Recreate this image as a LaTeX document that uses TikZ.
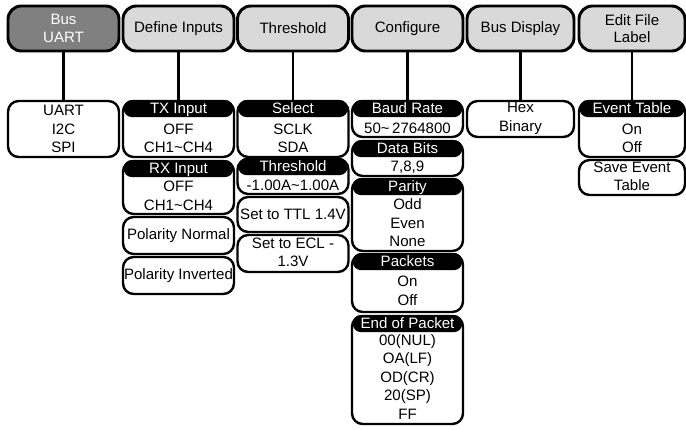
\documentclass[tikz,border=0pt]{standalone}
\usepackage{fontspec}
\setmainfont{Liberation Sans}
\usepackage{tikz}
\usetikzlibrary{positioning}
\definecolor{busgray}{RGB}{128,128,128}
\definecolor{menugray}{RGB}{217,217,217}

\begin{document}
\begin{tikzpicture}[x=0.75pt, y=-0.75pt,
    menu/.style={draw, line width=2.2pt, rounded corners=10pt, fill=menugray, minimum height=33.75pt, align=center, inner sep=0pt, font=\fontsize{11.3}{13}\selectfont},
    busmenu/.style={menu, fill=busgray, text=white},
    group/.style={draw, line width=1.8pt, rounded corners=8pt, fill=white, inner sep=0pt},
    head/.style={fill=black, text=white, rounded corners=6pt, minimum width=#1, minimum height=12.75pt, inner sep=0pt, text height=8.6pt, text depth=0.5pt, font=\fontsize{11.3}{13}\selectfont},
    item/.style={align=center, inner sep=0pt, font=\fontsize{11.3}{13.875}\selectfont},
    link/.style={line width=1.6pt}]
        \useasboundingbox (0,0) rectangle (686,429);

        % Soft menu keys
        \node[busmenu, minimum width=83.25pt] (bus) at (63.5,28.5) {Bus\\UART};
        \node[menu, minimum width=83.25pt] (inputs) at (178.5,28.5) {Define Inputs};
        \node[menu, minimum width=83.25pt] (thresh) at (293,28.5) {Threshold};
        \node[menu, minimum width=83.25pt] (config) at (407.5,28.5) {Configure};
        \node[menu, minimum width=80.25pt] (display) at (520.5,28.5) {Bus Display};
        \node[menu, minimum width=79.5pt] (label) at (632,28.5) {Edit File\\Label};

        % Bus type
        \node[group, minimum width=83.25pt, minimum height=42pt] (protocol) at (63.5,129) {};
        \node[item] (protocoltext) at (63.5,129) {UART\\I2C\\SPI};

        % Define inputs
        \node[group, minimum width=83.25pt, minimum height=42pt] (txin) at (178.5,129) {};
        \node[head=82pt, anchor=north] (txhead) at (txin.north) {TX Input};
        \node[item] (txtext) at (178.5,138.5) {OFF\\CH1\textasciitilde CH4};
        \node[group, minimum width=83.25pt, minimum height=39.75pt] (rxin) at (178.5,187.5) {};
        \node[head=82pt, anchor=north] (rxhead) at (rxin.north) {RX Input};
        \node[item] (rxtext) at (178.5,196) {OFF\\CH1\textasciitilde CH4};
        \node[group, minimum width=83.25pt, minimum height=27.75pt] (polnorm) at (178.5,235.5) {};
        \node[item] (polnormtext) at (178.5,235.5) {Polarity Normal};
        \node[group, minimum width=83.25pt, minimum height=27.75pt] (polinv) at (178.5,275.5) {};
        \node[item] (polinvtext) at (178.5,275.5) {Polarity Inverted};

        % Threshold
        \node[group, minimum width=83.25pt, minimum height=42pt] (select) at (293,129) {};
        \node[head=82pt, anchor=north] (selecthead) at (select.north) {Select};
        \node[item] (selecttext) at (293,138.5) {SCLK\\SDA};
        \node[group, minimum width=83.25pt, minimum height=26.25pt] (level) at (293,176.5) {};
        \node[head=82pt, anchor=north] (levelhead) at (level.north) {Threshold};
        \node[item] (leveltext) at (293,185) {-1.00A\textasciitilde 1.00A};
        \node[group, minimum width=83.25pt, minimum height=26.25pt] (ttl) at (293,214.5) {};
        \node[item] (ttltext) at (293,214.5) {Set to TTL 1.4V};
        \node[group, minimum width=83.25pt, minimum height=27.75pt] (ecl) at (293,253.5) {};
        \node[item] (ecltext) at (293,252.5) {Set to ECL -\\1.3V};

        % Configure
        \node[group, minimum width=83.25pt, minimum height=27pt] (baud) at (407.5,119) {};
        \node[head=82pt, anchor=north] (baudhead) at (baud.north) {Baud Rate};
        \node[item] (baudtext) at (407.5,128) {50\textasciitilde\,2764800};
        \node[group, minimum width=83.25pt, minimum height=26.25pt] (databits) at (407.5,158.5) {};
        \node[head=82pt, anchor=north] (databitshead) at (databits.north) {Data Bits};
        \node[item] (databitstext) at (407.5,167) {7,8,9};
        \node[group, minimum width=83.25pt, minimum height=54pt] (parity) at (407.5,215) {};
        \node[head=82pt, anchor=north] (parityhead) at (parity.north) {Parity};
        \node[item] (paritytext) at (407.5,223) {Odd\\Even\\None};
        \node[group, minimum width=83.25pt, minimum height=43.5pt] (packets) at (407.5,283) {};
        \node[head=82pt, anchor=north] (packetshead) at (packets.north) {Packets};
        \node[item] (packetstext) at (407.5,291) {On\\Off};
        \node[group, minimum width=83.25pt, minimum height=81pt] (eop) at (407.5,370) {};
        \node[head=82pt, anchor=north] (eophead) at (eop.north) {End of Packet};
        \node[item] (eoptext) at (407.5,377) {00(NUL)\\OA(LF)\\OD(CR)\\20(SP)\\FF};

        % Bus display
        \node[group, minimum width=80.25pt, minimum height=27pt] (format) at (520.5,119) {};
        \node[item] (formattext) at (520.5,118.5) {Hex\\Binary};

        % Edit file label
        \node[group, minimum width=79.5pt, minimum height=42pt] (event) at (632,129) {};
        \node[head=78.5pt, anchor=north] (eventhead) at (event.north) {Event Table};
        \node[item] (eventtext) at (632,138.5) {On\\Off};
        \node[group, minimum width=79.5pt, minimum height=26.25pt] (saveevent) at (632,177.5) {};
        \node[item] (saveeventtext) at (632,176.5) {Save Event\\Table};

        % Links
        \draw[link] (bus) -- (protocol);
        \draw[link] (inputs) -- (txin);
        \draw[link] (thresh) -- (select);
        \draw[link] (config) -- (baud);
        \draw[link] (display) -- (format);
        \draw[link] (label) -- (event);
    \end{tikzpicture}
\end{document}
